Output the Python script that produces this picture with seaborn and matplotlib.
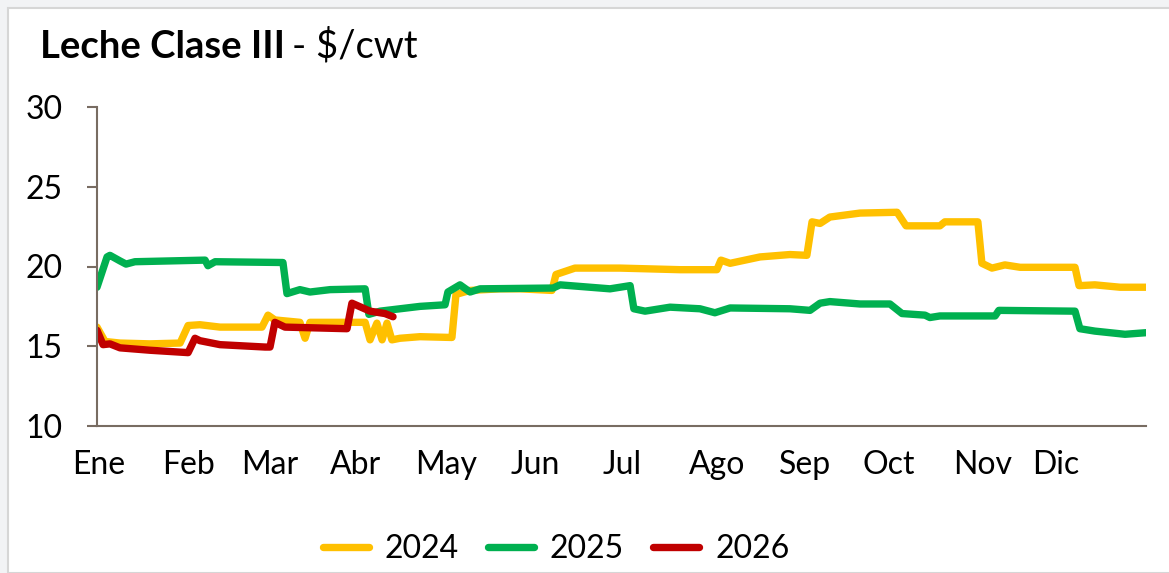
import pandas as pd
import seaborn as sns
import matplotlib.pyplot as plt
from matplotlib.patches import Rectangle

# dia del anio (0 = 1 de enero) y precio $/cwt
dias_2024 = [0, 2.8, 8, 18.4, 28.9, 31.7, 35.8, 42.8, 57.4, 59.5, 61.9, 70.6, 72.4, 74.1,
             93.3, 95, 97.4, 99.2, 100.9, 102.6, 105.4, 112.4, 123.5, 124.9, 129.8, 140.2,
             147.2, 158.3, 159.7, 166.3, 182, 202.9, 215.7, 217.1, 220.3, 230.7, 241.1, 247,
             248.8, 251.6, 255, 265.5, 278.4, 281.5, 293.3, 295, 306.5, 307.9, 311.4, 315.9,
             321.2, 340.3, 341.7, 347.2, 356, 365]
precio_2024 = [16.2, 15.3, 15.2, 15.15, 15.2, 16.3, 16.35, 16.2, 16.2, 16.95, 16.65, 16.5, 15.5, 16.5,
               16.5, 15.4, 16.45, 15.4, 16.45, 15.4, 15.5, 15.6, 15.55, 18.25, 18.5, 18.6,
               18.6, 18.5, 19.5, 19.9, 19.9, 19.8, 19.8, 20.4, 20.2, 20.6, 20.75, 20.7,
               22.8, 22.7, 23.1, 23.35, 23.4, 22.55, 22.55, 22.8, 22.8, 20.2, 19.9, 20.1,
               19.95, 19.95, 18.8, 18.85, 18.7, 18.7]

dias_2025 = [0, 3.5, 4.5, 8, 10.1, 13.2, 37.6, 38.6, 41.1, 64.7, 66.1, 70.6, 74.1, 81.1,
             93.3, 94.6, 98.5, 112.4, 121.1, 122.1, 126.3, 129.8, 133.3, 158.7, 161.1, 178.5,
             185.5, 186.8, 190.7, 199.4, 209.8, 215, 220.3, 241.1, 248.1, 251.6, 255, 265.5,
             275.9, 280.1, 288.1, 289.8, 293.3, 312.5, 313.8, 340.3, 342, 347.2, 357.7, 365]
precio_2025 = [18.7, 20.6, 20.7, 20.35, 20.15, 20.3, 20.4, 20.05, 20.3, 20.25, 18.3, 18.55, 18.4, 18.55,
               18.6, 17.0, 17.2, 17.5, 17.6, 18.4, 18.85, 18.4, 18.6, 18.65, 18.85, 18.6,
               18.8, 17.35, 17.2, 17.45, 17.35, 17.1, 17.4, 17.35, 17.25, 17.7, 17.8, 17.65,
               17.65, 17.05, 16.95, 16.8, 16.9, 16.9, 17.25, 17.2, 16.1, 15.95, 15.75, 15.85]

dias_2026 = [0, 2.1, 4.5, 8, 18.4, 31.7, 34.1, 35.8, 42.8, 58.5, 60.2, 61.9, 65.4, 87,
             88.7, 95, 100.2, 103]
precio_2026 = [16.0, 15.1, 15.15, 14.9, 14.75, 14.6, 15.5, 15.35, 15.1, 14.95, 14.95, 16.5, 16.2, 16.1,
               17.7, 17.2, 17.05, 16.85]

meses = ['Ene', 'Feb', 'Mar', 'Abr', 'May', 'Jun', 'Jul', 'Ago', 'Sep', 'Oct', 'Nov', 'Dic']
pos_meses = [0.5, 31.7, 60.2, 90, 121.4, 152.4, 182.7, 215.7, 246.3, 275.6, 308.3, 333.5]

colores = {'2024': '#FFC000', '2025': '#00B050', '2026': '#C00000'}

df = pd.concat([
    pd.DataFrame({'Dia': dias_2024, 'Precio': precio_2024, 'Anio': '2024'}),
    pd.DataFrame({'Dia': dias_2025, 'Precio': precio_2025, 'Anio': '2025'}),
    pd.DataFrame({'Dia': dias_2026, 'Precio': precio_2026, 'Anio': '2026'}),
])

sns.set_style('white')
plt.rcParams['font.family'] = ['Lato', 'DejaVu Sans']
plt.rcParams['text.color'] = 'black'

fig = plt.figure(figsize=(11.69, 5.73), dpi=100, facecolor='#F2F3F5')
fig.patches.append(Rectangle((8 / 1169, 0), 1, 1 - 8 / 573, transform=fig.transFigure,
                             facecolor='white', edgecolor='#D6D6D6', linewidth=1.5, zorder=-10))
ax = fig.add_axes([97 / 1169, 1 - 426 / 573, (1146 - 97) / 1169, (426 - 107) / 573])
ax.set_facecolor('none')

sns.lineplot(data=df, x='Dia', y='Precio', hue='Anio', palette=colores, estimator=None,
             linewidth=5.3, ax=ax)
for ln in ax.get_lines():
    ln.set_solid_capstyle('round')
    ln.set_solid_joinstyle('round')

ax.set_xlim(0, 365)
ax.set_ylim(10, 30)
ax.set_yticks([10, 15, 20, 25, 30])
ax.set_xticks(pos_meses)
ax.set_xticklabels(meses)
ax.set_xlabel('')
ax.set_ylabel('')

spine_color = '#786C62'
for s in ['top', 'right']:
    ax.spines[s].set_visible(False)
for s in ['left', 'bottom']:
    ax.spines[s].set_color(spine_color)
    ax.spines[s].set_linewidth(1.5)
ax.tick_params(axis='y', left=True, length=7.5, width=1.5, color=spine_color,
               labelcolor='black', pad=17, labelsize=23)
ax.tick_params(axis='x', bottom=False, length=0, pad=17, labelsize=23, labelcolor='black')

handles = ax.get_lines()[:3]
ax.legend(handles, ['2024', '2025', '2026'], loc='center', bbox_to_anchor=(556 / 1169, 1 - 549 / 573),
          bbox_transform=fig.transFigure, ncol=3, frameon=False, fontsize=23,
          handlelength=1.45, handletextpad=0.5, columnspacing=0.9)

# titulo: parte en negrita y parte normal
t1 = fig.text(40 / 1169, 1 - 58 / 573, 'Leche Clase III', fontsize=27.5, fontweight='bold',
              va='baseline', ha='left')
fig.canvas.draw()
bb = t1.get_window_extent(renderer=fig.canvas.get_renderer())
fig.text((bb.x1 + 7) / 1169, 1 - 58 / 573, '- $/cwt', fontsize=27.5, va='baseline', ha='left')

plt.savefig('out.png', dpi=100, facecolor=fig.get_facecolor())
